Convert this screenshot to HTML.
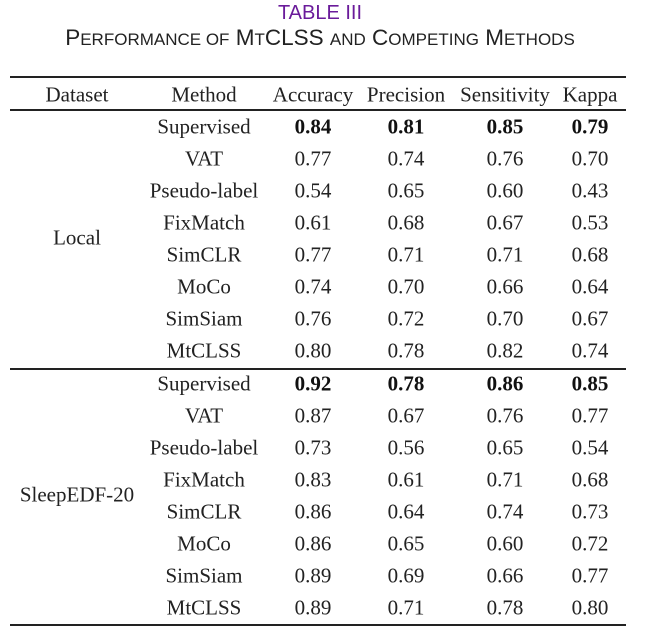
<!DOCTYPE html>
<html><head><meta charset="utf-8"><style>
body{margin:0;width:645px;height:642px;background:#fff;position:relative;overflow:hidden}
.t{position:absolute;transform:translate(-50%,-50%);white-space:nowrap;font-family:"Liberation Serif",serif;font-size:21px;color:#222;line-height:1}
.b{font-weight:bold;color:#111}
.l{position:absolute;left:10px;width:616px;background:#222}
</style></head><body>
<div class="t" style="left:320px;top:13px;font-family:'Liberation Sans',sans-serif;font-size:20px;color:#6a1b9a">TABLE III</div>
<div class="t" style="left:320px;top:38px;font-family:'Liberation Sans',sans-serif;font-size:22.5px;color:#222">P<span style="font-size:17px">ERFORMANCE OF</span> M<span style="font-size:17px">T</span>CLSS <span style="font-size:17px">AND</span> C<span style="font-size:17px">OMPETING</span> M<span style="font-size:17px">ETHODS</span></div>
<div class="l" style="top:76px;height:2px"></div>
<div class="l" style="top:109px;height:2px"></div>
<div class="l" style="top:368px;height:2px"></div>
<div class="l" style="top:624px;height:2px"></div>
<div id="c"></div>
<script>
var X=[77,204,313,406,505,590];
var h='';
function row(y,cells,bold){cells.forEach(function(c,i){if(c!=='')h+='<div class="t'+(bold&&i>1?' b':'')+'" style="left:'+X[i]+'px;top:'+y+'px">'+c+'</div>';});}
row(95,['Dataset','Method','Accuracy','Precision','Sensitivity','Kappa']);
var A=[['Supervised','0.84','0.81','0.85','0.79'],['VAT','0.77','0.74','0.76','0.70'],['Pseudo-label','0.54','0.65','0.60','0.43'],['FixMatch','0.61','0.68','0.67','0.53'],['SimCLR','0.77','0.71','0.71','0.68'],['MoCo','0.74','0.70','0.66','0.64'],['SimSiam','0.76','0.72','0.70','0.67'],['MtCLSS','0.80','0.78','0.82','0.74']];
var B=[['Supervised','0.92','0.78','0.86','0.85'],['VAT','0.87','0.67','0.76','0.77'],['Pseudo-label','0.73','0.56','0.65','0.54'],['FixMatch','0.83','0.61','0.71','0.68'],['SimCLR','0.86','0.64','0.74','0.73'],['MoCo','0.86','0.65','0.60','0.72'],['SimSiam','0.89','0.69','0.66','0.77'],['MtCLSS','0.89','0.71','0.78','0.80']];
A.forEach(function(r,k){row(127+32*k,[''].concat(r),k==0);});
B.forEach(function(r,k){row(384+32*k,[''].concat(r),k==0);});
row(238,['Local']);row(495,['SleepEDF-20']);
document.getElementById('c').innerHTML=h;
</script>
</body></html>
